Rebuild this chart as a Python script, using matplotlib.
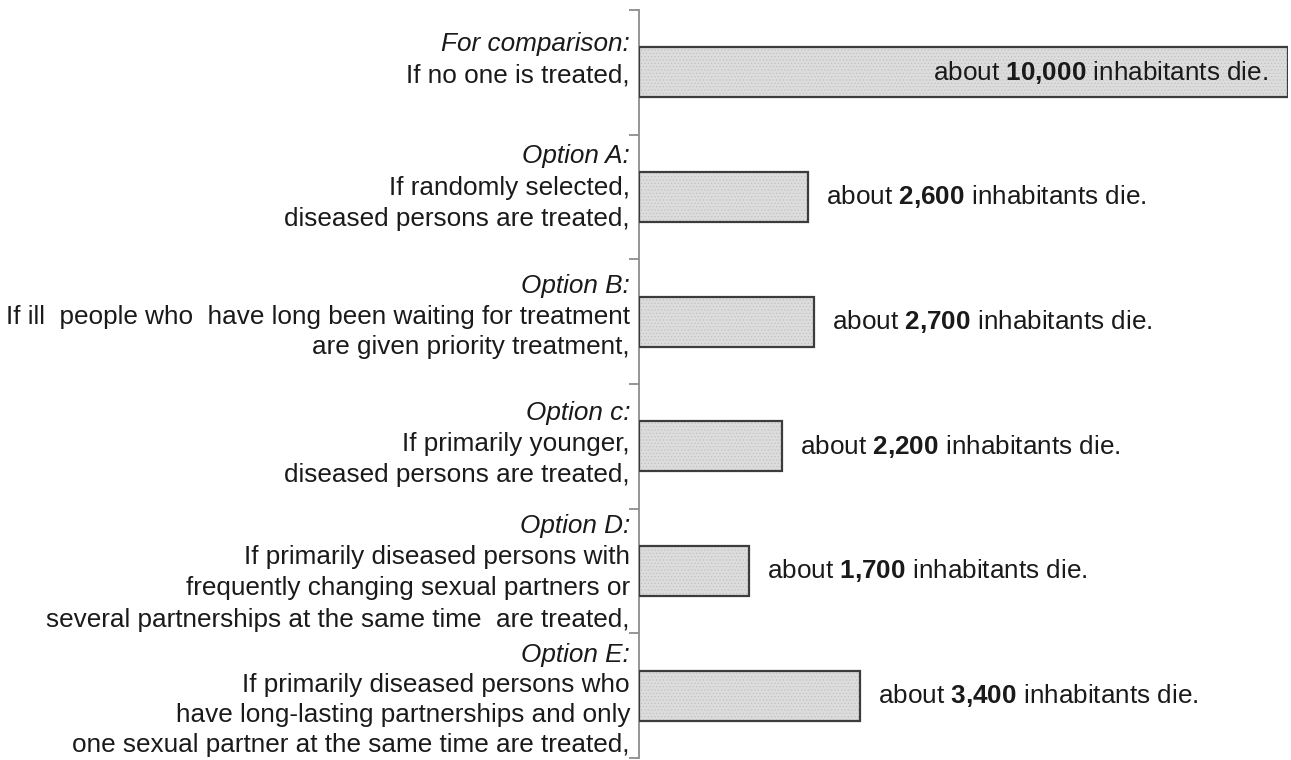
import matplotlib
matplotlib.use("Agg")
import matplotlib.pyplot as plt
import matplotlib.transforms as mtransforms
import numpy as np

plt.rcParams['font.family'] = ['Liberation Sans', 'DejaVu Sans']
plt.rcParams['mathtext.fontset'] = 'custom'
plt.rcParams['mathtext.rm'] = 'Liberation Sans'
plt.rcParams['mathtext.bf'] = 'Liberation Sans:bold'
plt.rcParams['hatch.linewidth'] = 0.4

headers = ["For comparison:", "Option A:", "Option B:", "Option c:", "Option D:", "Option E:"]
descriptions = [
    "If no one is treated,",
    "If randomly selected,\ndiseased persons are treated,",
    "If ill  people who  have long been waiting for treatment\nare given priority treatment,",
    "If primarily younger,\ndiseased persons are treated,",
    "If primarily diseased persons with\nfrequently changing sexual partners or\nseveral partnerships at the same time  are treated,",
    "If primarily diseased persons who\nhave long-lasting partnerships and only\none sexual partner at the same time are treated,",
]
deaths = [10000, 2600, 2700, 2200, 1700, 3400]
death_labels = ["10{,}000", "2{,}600", "2{,}700", "2{,}200", "1{,}700", "3{,}400"]

# baseline of first label line relative to category centre (pixels, negative = above)
first_line_offsets = [-21, -34, -28.5, -26, -38.5, -33.5]
line_steps = [31.5, 31.5, 30.5, 31, 31.5, 30]

fig = plt.figure(figsize=(12.91, 7.60), dpi=100)
ax = fig.add_axes([639/1291, 2/760, 649/1291, 748/760])

y = np.arange(len(deaths))
ax.barh(y, deaths, height=0.4, color='#dcdcdc', edgecolor='#bdbdbd',
        hatch='.....', linewidth=0, zorder=2)
ax.barh(y, deaths, height=0.4, fill=False, edgecolor='#3c3c3c',
        linewidth=1.6, zorder=3)

ax.set_xlim(0, 10000)
ax.set_ylim(len(deaths) - 0.5, -0.5)

for s in ['top', 'right', 'bottom']:
    ax.spines[s].set_visible(False)
ax.spines['left'].set_color('#8c8c8c')
ax.spines['left'].set_linewidth(1.3)
ax.set_xticks([])
ax.set_yticks(np.arange(-0.5, len(deaths) + 0.5, 1.0))
ax.set_yticklabels([])
ax.tick_params(axis='y', direction='out', length=7, width=1.3, color='#8c8c8c')

fs = 18.8
for i, (h, d) in enumerate(zip(headers, descriptions)):
    lines = [h] + d.split('\n')
    for j, line in enumerate(lines):
        dy_px = -(first_line_offsets[i] + j * line_steps[i])
        tr = ax.get_yaxis_transform() + mtransforms.ScaledTranslation(-9/100, dy_px/100, fig.dpi_scale_trans)
        ax.text(0, i, line, transform=tr, ha='right', va='baseline', fontsize=fs,
                style='italic' if j == 0 else 'normal', color='#1a1a1a')

for i, (v, lab) in enumerate(zip(deaths, death_labels)):
    txt = "about $\\mathbf{" + lab + "}$ inhabitants die."
    if v >= 9000:
        ax.annotate(txt, xy=(v, i), xytext=(-20, 0), textcoords='offset pixels',
                    ha='right', va='center', fontsize=fs, color='#1a1a1a', zorder=4)
    else:
        ax.annotate(txt, xy=(v, i), xytext=(18, 0), textcoords='offset pixels',
                    ha='left', va='center', fontsize=fs, color='#1a1a1a', zorder=4)

fig.savefig("out.png", dpi=100, facecolor='white')
